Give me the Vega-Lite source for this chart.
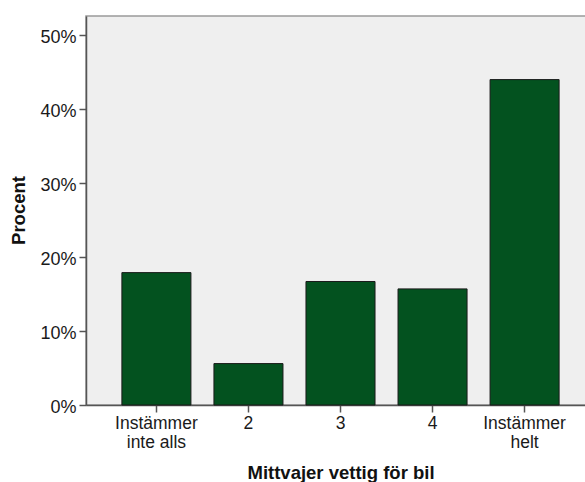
{
  "$schema": "https://vega.github.io/schema/vega-lite/v6.json",
  "autosize": {"type": "none"},
  "padding": {"left": 86, "top": 16, "right": 0, "bottom": 77},
  "width": 509,
  "height": 389,
  "background": "white",
  "config": {
    "font": "Liberation Sans",
    "view": {"fill": "#efefef", "stroke": "#9a9a9a", "strokeWidth": 1.5},
    "axis": {"grid": false, "labelFont": "Liberation Sans", "titleFont": "Liberation Sans", "labelFontSize": 17.5, "titleFontSize": 18.5, "labelColor": "#1a1a1a", "titleColor": "#111", "domainColor": "#555", "domainWidth": 1.5, "tickColor": "#555", "tickWidth": 1.5, "tickSize": 7}
  },
  "data": {
    "values": [
      {"kategori": "Instämmer inte alls", "procent": 0.179},
      {"kategori": "2", "procent": 0.056},
      {"kategori": "3", "procent": 0.167},
      {"kategori": "4", "procent": 0.157},
      {"kategori": "Instämmer helt", "procent": 0.440}
    ]
  },
  "mark": {"type": "bar", "color": "#03521f", "stroke": "#1a1a1a", "strokeWidth": 1},
  "encoding": {
    "x": {
      "field": "kategori", "type": "nominal", "sort": null,
      "scale": {"paddingInner": 0.25, "paddingOuter": 0.39},
      "axis": {
        "title": "Mittvajer vettig för bil",
        "labelAngle": 0,
        "labelPadding": 2.5,
        "labelBaseline": "top",
        "labelLineHeight": 18.5,
        "labelExpr": "datum.value == 'Instämmer inte alls' ? ['Instämmer', 'inte alls'] : datum.value == 'Instämmer helt' ? ['Instämmer', 'helt'] : datum.value",
        "titleY": 73,
        "titleBaseline": "alphabetic"
      }
    },
    "y": {
      "field": "procent", "type": "quantitative",
      "scale": {"domain": [0, 0.526], "nice": false},
      "axis": {
        "title": "Procent",
        "format": ".0%",
        "values": [0, 0.1, 0.2, 0.3, 0.4, 0.5],
        "labelPadding": 3,
        "labelOffset": 2,
        "labelFontSize": 18,
        "titleX": -58,
        "titleY": 194,
        "titleBaseline": "bottom",
        "titleAngle": -90,
        "titleAlign": "center"
      }
    }
  }
}
